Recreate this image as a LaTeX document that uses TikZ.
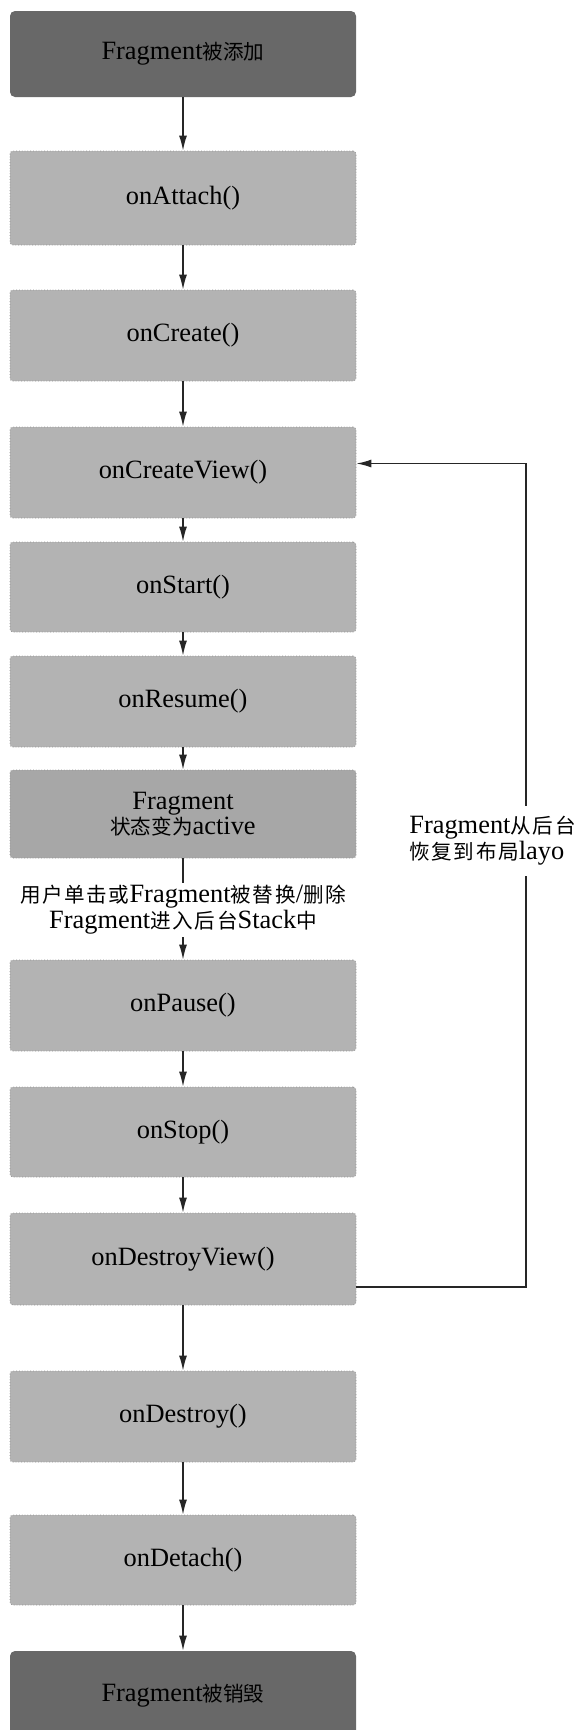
\documentclass[tikz,border=0pt]{standalone}
\usepackage{fontspec}
\setmainfont{Liberation Serif}
\newfontfamily\cjk[Scale=0.78]{Noto Sans CJK SC}
\newfontfamily\cjkwide[Scale=0.78, LetterSpace=8]{Noto Sans CJK SC}
\usetikzlibrary{arrows.meta}
\definecolor{stagegray}{HTML}{B3B3B3}
\definecolor{activegray}{HTML}{A7A7A7}
\definecolor{endgray}{HTML}{686868}
\newcommand{\stagefont}{\fontsize{13.2pt}{11pt}\selectfont}

\begin{document}
\begin{tikzpicture}[
    x=0.5pt, y=-0.5pt,
    stage/.style={fill=stagegray, draw=stagegray!82!black, densely dotted, line width=0.4pt,
                  rounded corners=1.5pt, minimum width=173pt, inner sep=0pt, align=center, font=\stagefont},
    endstage/.style={stage, fill=endgray, draw=none, rounded corners=2.5pt},
    flow/.style={-{Latex[length=7.5pt, width=4pt]}, line width=0.7pt, black!85, solid},
    note/.style={font=\stagefont, fill=white, align=center, inner xsep=1pt, inner ysep=1pt},
]
\useasboundingbox (0,0) rectangle (578,1730);
\clip (0,0) rectangle (578,1730);
\fill[white] (0,0) rectangle (578,1730);
% first and last state
\node[endstage, minimum height=43pt] (added) at (183, 54) {Fragment{\cjk 被添加}};
\node[endstage, minimum height=45pt] (gone) at (183, 1696) {Fragment{\cjk 被销毁}};
% callbacks
\foreach \name/\top/\bot/\txt in {attach/151/245/onAttach(), create/290/381/onCreate(),
    cview/427/518/onCreateView(), start/542/632/onStart(), resume/656/747/onResume(),
    pause/960/1051/onPause(), stop/1087/1177/onStop(), dview/1213/1305/onDestroyView(),
    destroy/1371/1462/onDestroy(), detach/1515/1605/onDetach()} {
  \node[stage, minimum height={(\bot-\top)*0.5pt}] (\name) at (183, {(\top+\bot)/2}) {\txt};
}
\node[stage, fill=activegray, minimum height=44pt] (active) at (183, 814)
    {Fragment\\{\cjk 状态变为}active};
% main flow
\foreach \a/\b in {added/attach, attach/create, create/cview, cview/start, start/resume,
    resume/active, active/pause, pause/stop, stop/dview, dview/destroy, destroy/detach, detach/gone} {
  \draw[flow] (\a) -- (\b);
}
% back stack loop
\coordinate (rside) at (526, 0);
\draw[flow] ([yshift=-14pt]dview.east) -- ([yshift=-14pt]dview.east -| rside)
    |- ([yshift=4.5pt]cview.east);
\node[note, anchor=east, align=left, inner ysep=5pt] (back) at (578, 841)
    {Fragment{\cjkwide 从后台}\\{\cjkwide 恢复到布局}layo};
\node[note] (leave) at (183, 910)
    {{\cjkwide 用户单击或}Fragment{\cjkwide 被替换}/{\cjkwide 删除}\\Fragment{\cjkwide 进入后台}Stack{\cjkwide 中}};
\end{tikzpicture}
\end{document}
